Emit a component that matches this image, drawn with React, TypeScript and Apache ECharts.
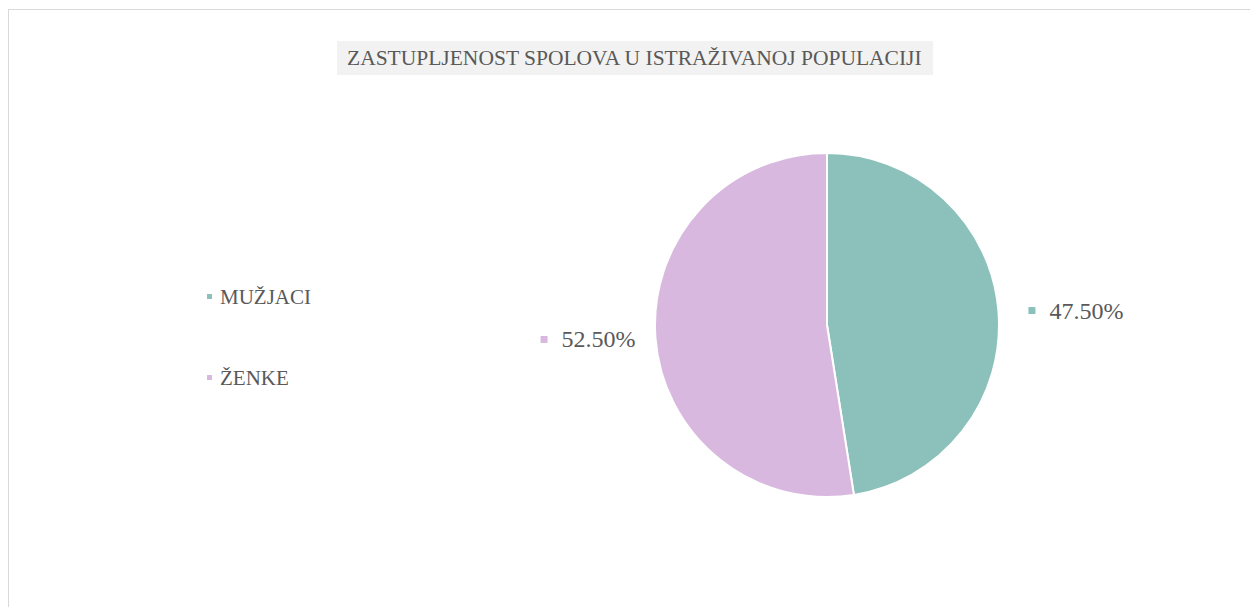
import React, { useEffect, useRef } from "react";
import * as echarts from "echarts";

const titleText = "ZASTUPLJENOST SPOLOVA U ISTRAŽIVANOJ POPULACIJI";
const categories = ["MUŽJACI", "ŽENKE"];
const values = [47.5, 52.5];
const colors = ["#8BC1BA", "#D8B8DE"];
const labelLen2 = [13, 3];

const FONT = "'Liberation Serif', 'Times New Roman', serif";
const TEXT = "#595959";

export default function App() {
  const ref = useRef<HTMLDivElement>(null);
  useEffect(() => {
    if (!ref.current) return;
    const chart = echarts.init(ref.current, undefined, { renderer: "svg" });
    const data = categories.map((name, i) => ({
      name,
      value: values[i],
      itemStyle: { color: colors[i] },
      labelLine: { show: false, length: 12, length2: labelLen2[i] },
      label: {
        rich: {
          m: { backgroundColor: colors[i], width: 7, height: 7 },
          sp: { width: 14 },
          v: { fontSize: 24, color: TEXT, fontFamily: FONT },
        },
      },
    }));
    chart.setOption({
      animation: false,
      title: {
        text: titleText,
        left: 328,
        top: 31,
        backgroundColor: "#F2F2F2",
        padding: [6, 10, 6, 10],
        textStyle: {
          fontFamily: FONT,
          fontSize: 21.5,
          fontWeight: "normal",
          color: TEXT,
        },
      },
      legend: {
        orient: "vertical",
        left: 191,
        top: 271,
        icon: "rect",
        itemWidth: 7,
        itemHeight: 7,
        itemGap: 60,
        data: categories,
        textStyle: {
          fontFamily: FONT,
          fontSize: 21,
          color: TEXT,
          padding: [0, 0, 0, 2],
        },
      },
      series: [
        {
          type: "pie",
          center: [818, 315],
          radius: 172,
          startAngle: 90,
          clockwise: true,
          data,
          itemStyle: { borderColor: "#ffffff", borderWidth: 2 },
          labelLine: { show: false, length: 12, length2: 8 },
          label: {
            show: true,
            position: "outside",
            formatter: (p: any) => "{m|}{sp|}{v|" + p.value.toFixed(2) + "%}",
          },
          emphasis: { disabled: true },
        },
      ],
    });
    return () => chart.dispose();
  }, []);
  return (
    <div
      style={{
        position: "fixed",
        left: 8,
        top: 9,
        width: 1300,
        height: 650,
        border: "1px solid #D9D9D9",
        boxSizing: "border-box",
        background: "#fff",
      }}
    >
      <div ref={ref} style={{ width: 1298, height: 648 }} />
    </div>
  );
}
